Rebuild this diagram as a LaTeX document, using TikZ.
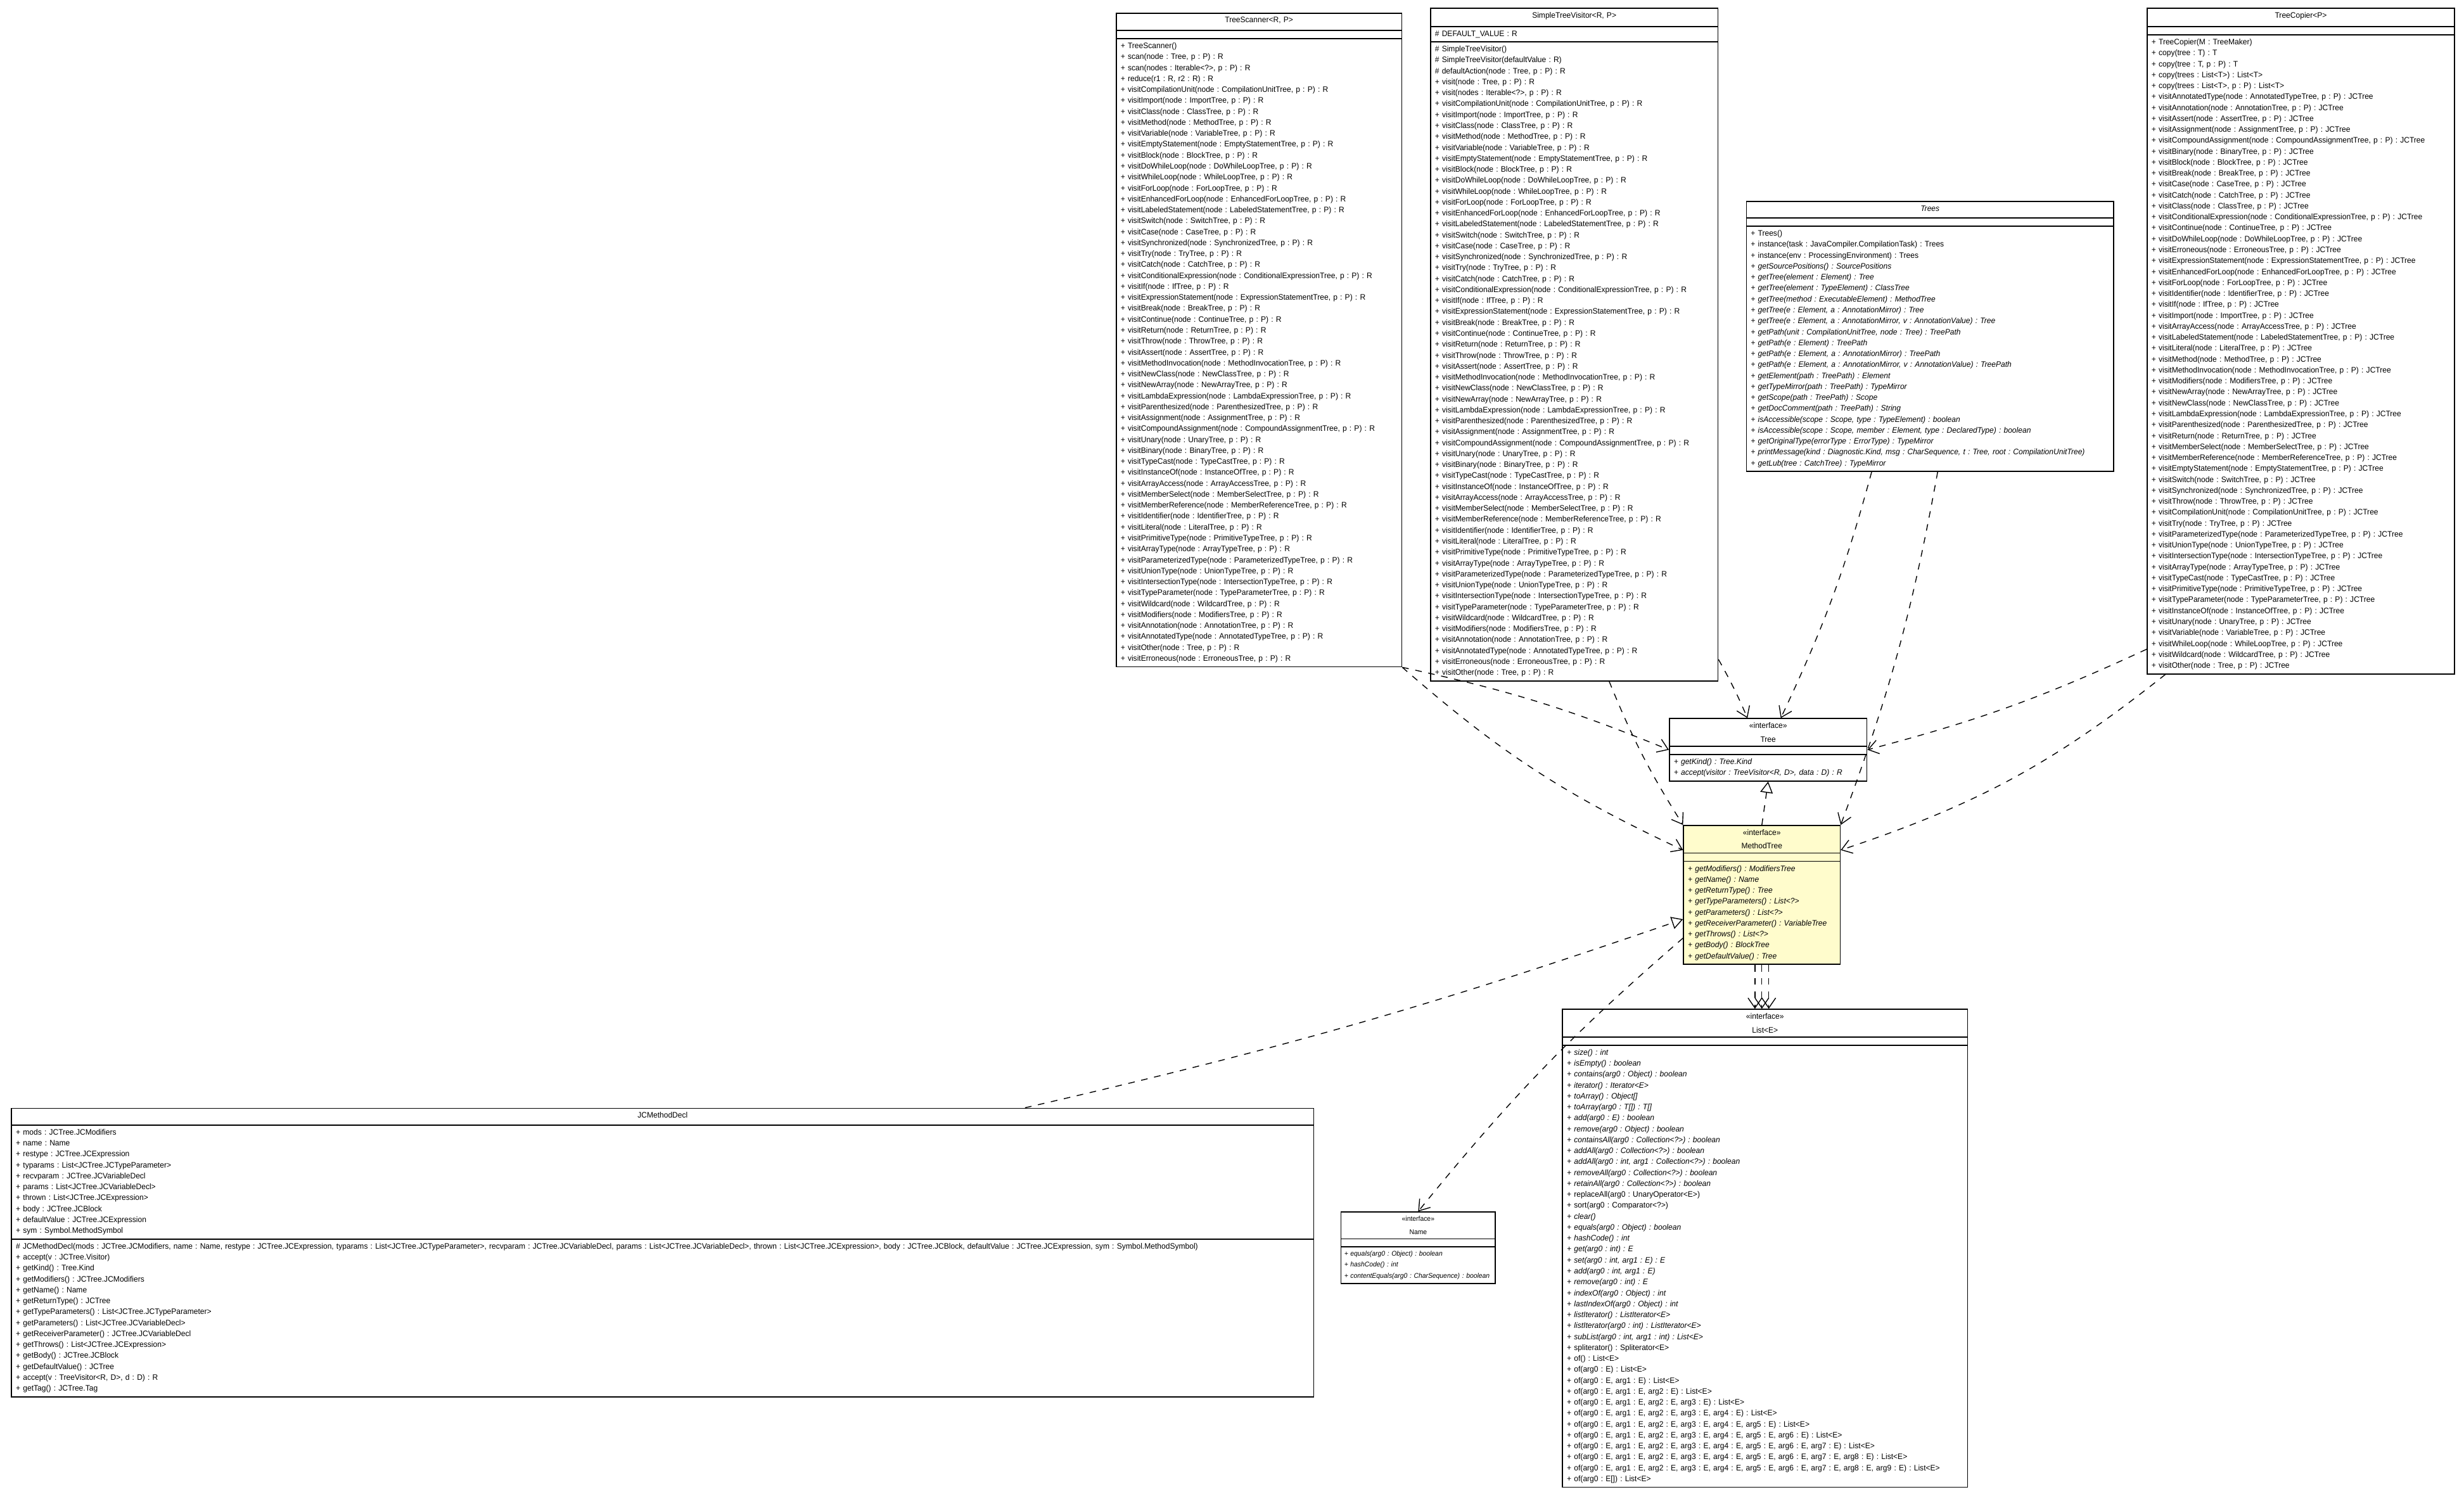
\documentclass[tikz,border=0pt]{standalone}
\usepackage{fontspec}
\setmainfont{Liberation Sans}[FakeStretch=0.96]
\usetikzlibrary{shapes.multipart,arrows.meta}
\tikzset{
  umlclass/.style={rectangle split,rectangle split parts=3,draw,line width=0.5pt,fill=white,
    anchor=north west,align=left,inner xsep=2pt,inner ysep=1.6pt,
    font=\fontsize{3.6}{4.95}\selectfont\frenchspacing},
  dep/.style={dashed,thin,-{Straight Barb[length=1.6mm,width=2.2mm]}},
  real/.style={dashed,thin,-{Triangle[open,length=1.8mm,width=2mm]}}
}
\newcommand\vis[2]{+ visit#1(node : #1Tree, p : P) : #2\\}
\newcommand\ttl[1]{\centering\vspace*{1.2pt}#1\par\vspace*{1.2pt}}
\begin{document}
\begin{tikzpicture}[x=0.025cm,y=-0.025cm]
\useasboundingbox[fill=white](0,0) rectangle (1568,957);
%tree scanner
\node[umlclass,text width=4.4cm](ts)at(710,8){\ttl{TreeScanner<R, P>}
\nodepart{two}~
\nodepart{three}+ TreeScanner()\\
+ scan(node : Tree, p : P) : R\\
+ scan(nodes : Iterable<?>, p : P) : R\\
+ reduce(r1 : R, r2 : R) : R\\
\vis{CompilationUnit}{R}\vis{Import}{R}\vis{Class}{R}\vis{Method}{R}\vis{Variable}{R}
\vis{EmptyStatement}{R}\vis{Block}{R}\vis{DoWhileLoop}{R}\vis{WhileLoop}{R}\vis{ForLoop}{R}
\vis{EnhancedForLoop}{R}\vis{LabeledStatement}{R}\vis{Switch}{R}\vis{Case}{R}\vis{Synchronized}{R}
\vis{Try}{R}\vis{Catch}{R}\vis{ConditionalExpression}{R}\vis{If}{R}\vis{ExpressionStatement}{R}
\vis{Break}{R}\vis{Continue}{R}\vis{Return}{R}\vis{Throw}{R}\vis{Assert}{R}
\vis{MethodInvocation}{R}\vis{NewClass}{R}\vis{NewArray}{R}\vis{LambdaExpression}{R}\vis{Parenthesized}{R}
\vis{Assignment}{R}\vis{CompoundAssignment}{R}\vis{Unary}{R}\vis{Binary}{R}\vis{TypeCast}{R}
\vis{InstanceOf}{R}\vis{ArrayAccess}{R}\vis{MemberSelect}{R}\vis{MemberReference}{R}\vis{Identifier}{R}
\vis{Literal}{R}\vis{PrimitiveType}{R}\vis{ArrayType}{R}\vis{ParameterizedType}{R}\vis{UnionType}{R}
\vis{IntersectionType}{R}\vis{TypeParameter}{R}\vis{Wildcard}{R}\vis{Modifiers}{R}\vis{Annotation}{R}
\vis{AnnotatedType}{R}
+ visitOther(node : Tree, p : P) : R\\
+ visitErroneous(node : ErroneousTree, p : P) : R};
%simple tree visitor
\node[umlclass,text width=4.43cm](stv)at(910,5){\ttl{SimpleTreeVisitor<R, P>}
\nodepart{two}\# DEFAULT\_VALUE : R
\nodepart{three}\# SimpleTreeVisitor()\\
\# SimpleTreeVisitor(defaultValue : R)\\
\# defaultAction(node : Tree, p : P) : R\\
+ visit(node : Tree, p : P) : R\\
+ visit(nodes : Iterable<?>, p : P) : R\\
\vis{CompilationUnit}{R}\vis{Import}{R}\vis{Class}{R}\vis{Method}{R}\vis{Variable}{R}
\vis{EmptyStatement}{R}\vis{Block}{R}\vis{DoWhileLoop}{R}\vis{WhileLoop}{R}\vis{ForLoop}{R}
\vis{EnhancedForLoop}{R}\vis{LabeledStatement}{R}\vis{Switch}{R}\vis{Case}{R}\vis{Synchronized}{R}
\vis{Try}{R}\vis{Catch}{R}\vis{ConditionalExpression}{R}\vis{If}{R}\vis{ExpressionStatement}{R}
\vis{Break}{R}\vis{Continue}{R}\vis{Return}{R}\vis{Throw}{R}\vis{Assert}{R}
\vis{MethodInvocation}{R}\vis{NewClass}{R}\vis{NewArray}{R}\vis{LambdaExpression}{R}\vis{Parenthesized}{R}
\vis{Assignment}{R}\vis{CompoundAssignment}{R}\vis{Unary}{R}\vis{Binary}{R}\vis{TypeCast}{R}
\vis{InstanceOf}{R}\vis{ArrayAccess}{R}\vis{MemberSelect}{R}\vis{MemberReference}{R}\vis{Identifier}{R}
\vis{Literal}{R}\vis{PrimitiveType}{R}\vis{ArrayType}{R}\vis{ParameterizedType}{R}\vis{UnionType}{R}
\vis{IntersectionType}{R}\vis{TypeParameter}{R}\vis{Wildcard}{R}\vis{Modifiers}{R}\vis{Annotation}{R}
\vis{AnnotatedType}{R}\vis{Erroneous}{R}
+ visitOther(node : Tree, p : P) : R};
%tree copier
\node[umlclass,text width=4.75cm](tc)at(1366,5){\ttl{TreeCopier<P>}
\nodepart{two}~
\nodepart{three}+ TreeCopier(M : TreeMaker)\\
+ copy(tree : T) : T\\
+ copy(tree : T, p : P) : T\\
+ copy(trees : List<T>) : List<T>\\
+ copy(trees : List<T>, p : P) : List<T>\\
\vis{AnnotatedType}{JCTree}\vis{Annotation}{JCTree}\vis{Assert}{JCTree}\vis{Assignment}{JCTree}
\vis{CompoundAssignment}{JCTree}\vis{Binary}{JCTree}\vis{Block}{JCTree}\vis{Break}{JCTree}
\vis{Case}{JCTree}\vis{Catch}{JCTree}\vis{Class}{JCTree}\vis{ConditionalExpression}{JCTree}
\vis{Continue}{JCTree}\vis{DoWhileLoop}{JCTree}\vis{Erroneous}{JCTree}\vis{ExpressionStatement}{JCTree}
\vis{EnhancedForLoop}{JCTree}\vis{ForLoop}{JCTree}\vis{Identifier}{JCTree}\vis{If}{JCTree}
\vis{Import}{JCTree}\vis{ArrayAccess}{JCTree}\vis{LabeledStatement}{JCTree}\vis{Literal}{JCTree}
\vis{Method}{JCTree}\vis{MethodInvocation}{JCTree}\vis{Modifiers}{JCTree}\vis{NewArray}{JCTree}
\vis{NewClass}{JCTree}\vis{LambdaExpression}{JCTree}\vis{Parenthesized}{JCTree}\vis{Return}{JCTree}
\vis{MemberSelect}{JCTree}\vis{MemberReference}{JCTree}\vis{EmptyStatement}{JCTree}\vis{Switch}{JCTree}
\vis{Synchronized}{JCTree}\vis{Throw}{JCTree}\vis{CompilationUnit}{JCTree}\vis{Try}{JCTree}
\vis{ParameterizedType}{JCTree}\vis{UnionType}{JCTree}\vis{IntersectionType}{JCTree}\vis{ArrayType}{JCTree}
\vis{TypeCast}{JCTree}\vis{PrimitiveType}{JCTree}\vis{TypeParameter}{JCTree}\vis{InstanceOf}{JCTree}
\vis{Unary}{JCTree}\vis{Variable}{JCTree}\vis{WhileLoop}{JCTree}\vis{Wildcard}{JCTree}
+ visitOther(node : Tree, p : P) : JCTree};
%trees
\node[umlclass,text width=5.7cm](trs)at(1111,128){\ttl{\itshape Trees}
\nodepart{two}~
\nodepart{three}+ Trees()\\
+ instance(task : JavaCompiler.CompilationTask) : Trees\\
+ instance(env : ProcessingEnvironment) : Trees\\
\itshape + getSourcePositions() : SourcePositions\\
+ getTree(element : Element) : Tree\\
+ getTree(element : TypeElement) : ClassTree\\
+ getTree(method : ExecutableElement) : MethodTree\\
+ getTree(e : Element, a : AnnotationMirror) : Tree\\
+ getTree(e : Element, a : AnnotationMirror, v : AnnotationValue) : Tree\\
+ getPath(unit : CompilationUnitTree, node : Tree) : TreePath\\
+ getPath(e : Element) : TreePath\\
+ getPath(e : Element, a : AnnotationMirror) : TreePath\\
+ getPath(e : Element, a : AnnotationMirror, v : AnnotationValue) : TreePath\\
+ getElement(path : TreePath) : Element\\
+ getTypeMirror(path : TreePath) : TypeMirror\\
+ getScope(path : TreePath) : Scope\\
+ getDocComment(path : TreePath) : String\\
+ isAccessible(scope : Scope, type : TypeElement) : boolean\\
+ isAccessible(scope : Scope, member : Element, type : DeclaredType) : boolean\\
+ getOriginalType(errorType : ErrorType) : TypeMirror\\
+ printMessage(kind : Diagnostic.Kind, msg : CharSequence, t : Tree, root : CompilationUnitTree)\\
+ getLub(tree : CatchTree) : TypeMirror};
%tree
\node[umlclass,text width=3cm](tree)at(1062,457){\ttl{«interface»\\Tree}
\nodepart{two}~
\nodepart{three}\itshape + getKind() : Tree.Kind\\
+ accept(visitor : TreeVisitor<R, D>, data : D) : R};
%method tree
\node[umlclass,text width=2.35cm,fill=yellow!20](mt)at(1071,525){\ttl{«interface»\\MethodTree}
\nodepart{two}~
\nodepart{three}\itshape + getModifiers() : ModifiersTree\\
+ getName() : Name\\
+ getReturnType() : Tree\\
+ getTypeParameters() : List<?>\\
+ getParameters() : List<?>\\
+ getReceiverParameter() : VariableTree\\
+ getThrows() : List<?>\\
+ getBody() : BlockTree\\
+ getDefaultValue() : Tree};
%list
\node[umlclass,text width=6.3cm](lst)at(994,642){\ttl{«interface»\\List<E>}
\nodepart{two}~
\nodepart{three}\itshape + size() : int\\
+ isEmpty() : boolean\\
+ contains(arg0 : Object) : boolean\\
+ iterator() : Iterator<E>\\
+ toArray() : Object[]\\
+ toArray(arg0 : T[]) : T[]\\
+ add(arg0 : E) : boolean\\
+ remove(arg0 : Object) : boolean\\
+ containsAll(arg0 : Collection<?>) : boolean\\
+ addAll(arg0 : Collection<?>) : boolean\\
+ addAll(arg0 : int, arg1 : Collection<?>) : boolean\\
+ removeAll(arg0 : Collection<?>) : boolean\\
+ retainAll(arg0 : Collection<?>) : boolean\\
\upshape + replaceAll(arg0 : UnaryOperator<E>)\\
+ sort(arg0 : Comparator<?>)\\
\itshape + clear()\\
+ equals(arg0 : Object) : boolean\\
+ hashCode() : int\\
+ get(arg0 : int) : E\\
+ set(arg0 : int, arg1 : E) : E\\
+ add(arg0 : int, arg1 : E)\\
+ remove(arg0 : int) : E\\
+ indexOf(arg0 : Object) : int\\
+ lastIndexOf(arg0 : Object) : int\\
+ listIterator() : ListIterator<E>\\
+ listIterator(arg0 : int) : ListIterator<E>\\
+ subList(arg0 : int, arg1 : int) : List<E>\\
\upshape + spliterator() : Spliterator<E>\\
+ of() : List<E>\\
+ of(arg0 : E) : List<E>\\
+ of(arg0 : E, arg1 : E) : List<E>\\
+ of(arg0 : E, arg1 : E, arg2 : E) : List<E>\\
+ of(arg0 : E, arg1 : E, arg2 : E, arg3 : E) : List<E>\\
+ of(arg0 : E, arg1 : E, arg2 : E, arg3 : E, arg4 : E) : List<E>\\
+ of(arg0 : E, arg1 : E, arg2 : E, arg3 : E, arg4 : E, arg5 : E) : List<E>\\
+ of(arg0 : E, arg1 : E, arg2 : E, arg3 : E, arg4 : E, arg5 : E, arg6 : E) : List<E>\\
+ of(arg0 : E, arg1 : E, arg2 : E, arg3 : E, arg4 : E, arg5 : E, arg6 : E, arg7 : E) : List<E>\\
+ of(arg0 : E, arg1 : E, arg2 : E, arg3 : E, arg4 : E, arg5 : E, arg6 : E, arg7 : E, arg8 : E) : List<E>\\
+ of(arg0 : E, arg1 : E, arg2 : E, arg3 : E, arg4 : E, arg5 : E, arg6 : E, arg7 : E, arg8 : E, arg9 : E) : List<E>\\
+ of(arg0 : E[]) : List<E>};
%name
\node[umlclass,text width=2.35cm,inner xsep=1.5pt,font=\fontsize{3.1}{4.95}\selectfont\frenchspacing](nm)at(853,771){\ttl{«interface»\\Name}
\nodepart{two}~
\nodepart{three}\itshape + equals(arg0 : Object) : boolean\\
+ hashCode() : int\\
+ contentEquals(arg0 : CharSequence) : boolean};
%method decl
\node[umlclass,text width=20.57cm](jmd)at(7,705){\ttl{JCMethodDecl}
\nodepart{two}+ mods : JCTree.JCModifiers\\
+ name : Name\\
+ restype : JCTree.JCExpression\\
+ typarams : List<JCTree.JCTypeParameter>\\
+ recvparam : JCTree.JCVariableDecl\\
+ params : List<JCTree.JCVariableDecl>\\
+ thrown : List<JCTree.JCExpression>\\
+ body : JCTree.JCBlock\\
+ defaultValue : JCTree.JCExpression\\
+ sym : Symbol.MethodSymbol
\nodepart{three}\# JCMethodDecl(mods : JCTree.JCModifiers, name : Name, restype : JCTree.JCExpression, typarams : List<JCTree.JCTypeParameter>, recvparam : JCTree.JCVariableDecl, params : List<JCTree.JCVariableDecl>, thrown : List<JCTree.JCExpression>, body : JCTree.JCBlock, defaultValue : JCTree.JCExpression, sym : Symbol.MethodSymbol)\\
+ accept(v : JCTree.Visitor)\\
+ getKind() : Tree.Kind\\
+ getModifiers() : JCTree.JCModifiers\\
+ getName() : Name\\
+ getReturnType() : JCTree\\
+ getTypeParameters() : List<JCTree.JCTypeParameter>\\
+ getParameters() : List<JCTree.JCVariableDecl>\\
+ getReceiverParameter() : JCTree.JCVariableDecl\\
+ getThrows() : List<JCTree.JCExpression>\\
+ getBody() : JCTree.JCBlock\\
+ getDefaultValue() : JCTree\\
+ accept(v : TreeVisitor<R, D>, d : D) : R\\
+ getTag() : JCTree.Tag};
%dependencies
\draw[dep](ts.south east)to[bend left=5](tree.west);
\draw[dep](ts.south east)to[bend right=8]([yshift=-0.4cm]mt.north west);
\draw[dep]([xshift=2.85cm]stv.south west)to[bend right=5](mt.north west);
\draw[dep]([yshift=0.35cm]stv.south east)to[bend left=3]([xshift=1.25cm]tree.north west);
\draw[dep]([xshift=2cm]trs.south west)to[bend left=5]([xshift=1.78cm]tree.north west);
\draw[dep]([xshift=3.05cm]trs.south west)to[bend left=5](mt.north east);
\draw[dep]([yshift=0.4cm]tc.south west)to[bend left=5](tree.east);
\draw[dep]([xshift=0.3cm]tc.south west)to[bend left=10]([yshift=-0.4cm]mt.north east);
\draw[real](mt.north)--(tree.south);
\draw[real]([xshift=-4.6cm]jmd.north east)to[bend right=3]([yshift=-1.5cm]mt.north west);
\draw[dep]([yshift=-1.8cm]mt.north west)to[bend right=5](nm.north);
\foreach \dx in {-0.11,0,0.11}{
\draw[dep]([xshift=\dx cm]mt.south)--([xshift=\dx cm]mt.south|-lst.north);}
\end{tikzpicture}
\end{document}
